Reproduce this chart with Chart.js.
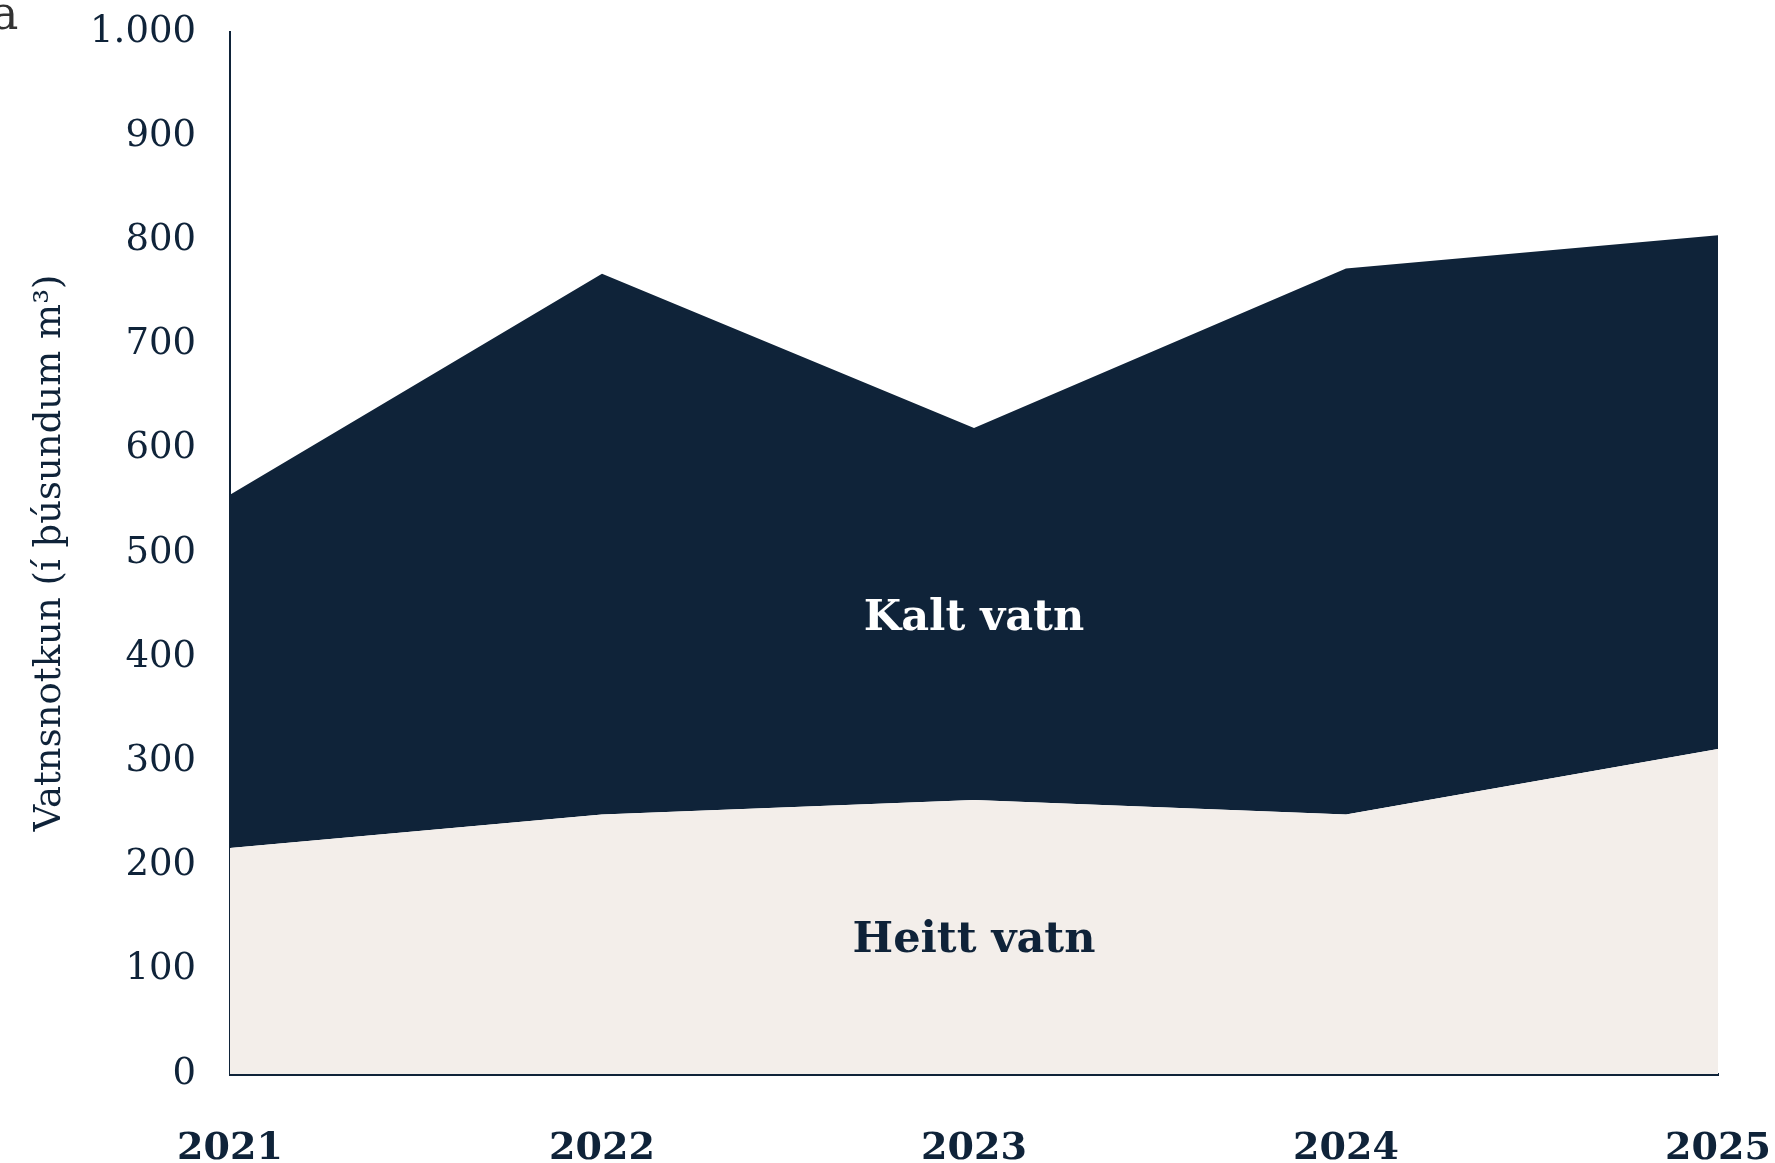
<!DOCTYPE html>
<html>
<head>
<meta charset="utf-8">
<script src="https://cdn.jsdelivr.net/npm/chart.js@4/dist/chart.umd.min.js"></script>
<style>
    html, body { margin: 0; padding: 0; background: #fff; overflow: hidden; }
    #wrap { position: relative; width: 1775px; height: 1163px; overflow: hidden; }
    #model { position: absolute; left: 0; top: 0; }
    #cut { position: absolute; left: -9px; top: -14px; font: 46px "DejaVu Serif", serif; color: #333; }
</style>
</head>
<body>
<div id="wrap">
    <canvas id="model" width="1775" height="1200"></canvas>
    <div id="cut">a</div>
</div>
<script>
const years = ["2021", "2022", "2023", "2024", "2025"];
const heittVatn = [217, 249, 263, 249, 312];
const kaltVatn = [339, 519, 357, 524, 493];
const yTicks = [0, 100, 200, 300, 400, 500, 600, 700, 800, 900, 1000];
const areaNames = ["Heitt vatn", "Kalt vatn"];
const areaNameAt = [128, 437];

const navy = "#0f2339";
const sand = "#f3eeea";
const serif = "'DejaVu Serif', Georgia, serif";

// writes the area names inside the stacked areas
const areaText = {
    id: "areaText",
    afterDatasetsDraw(chart) {
        const ctx = chart.ctx;
        const x = chart.scales.x.getPixelForValue(2);
        ctx.save();
        ctx.textAlign = "center";
        ctx.textBaseline = "middle";
        ctx.font = "bold 43px " + serif;
        ctx.fillStyle = navy;
        ctx.fillText(areaNames[0], x, chart.scales.y.getPixelForValue(areaNameAt[0]));
        ctx.fillStyle = "#ffffff";
        ctx.fillText(areaNames[1], x, chart.scales.y.getPixelForValue(areaNameAt[1]));
        ctx.restore();
    }
};

new Chart(document.getElementById("model"), {
    type: "line",
    data: {
        labels: years,
        datasets: [{
            label: "Heitt vatn",
            data: heittVatn,
            fill: "origin",
            backgroundColor: sand,
            borderWidth: 0,
            pointRadius: 0
        }, {
            label: "Kalt vatn",
            data: kaltVatn,
            fill: "-1",
            backgroundColor: navy,
            borderWidth: 0,
            pointRadius: 0
        }]
    },
    options: {
        responsive: false,
        animation: false,
        devicePixelRatio: 1,
        layout: { padding: { top: 32, right: 57, left: 0, bottom: 0 } },
        plugins: {
            legend: { display: false },
            tooltip: { enabled: false }
        },
        scales: {
            x: {
                z: 1,
                grid: { display: false, drawTicks: false },
                border: { display: true, color: navy, width: 3 },
                ticks: {
                    color: navy,
                    font: { family: serif, size: 38, weight: "bold" },
                    padding: 52,
                    maxRotation: 0,
                    autoSkip: false
                },
                afterFit(scale) {
                    scale.height = 126;
                    scale.paddingLeft = 0;
                    scale.paddingRight = 0;
                }
            },
            y: {
                z: 1,
                stacked: true,
                min: 0,
                max: 1000,
                afterBuildTicks(scale) { scale.ticks = yTicks.map(v => ({ value: v })); },
                grid: { display: false, drawTicks: false },
                border: { display: true, color: navy, width: 2 },
                ticks: {
                    color: navy,
                    padding: 34,
                    font: { family: serif, size: 37 },
                    callback: v => v >= 1000 ? Math.floor(v / 1000) + "." + String(v % 1000).padStart(3, "0") : String(v)
                },
                title: {
                    display: true,
                    text: "Vatnsnotkun (í þúsundum m³)",
                    color: navy,
                    font: { family: serif, size: 37 },
                    padding: { top: 28, bottom: 0 }
                },
                afterFit(scale) {
                    scale.width = 230;
                    scale.paddingTop = 0;
                    scale.paddingBottom = 0;
                }
            }
        }
    },
    plugins: [areaText]
});
</script>
</body>
</html>
